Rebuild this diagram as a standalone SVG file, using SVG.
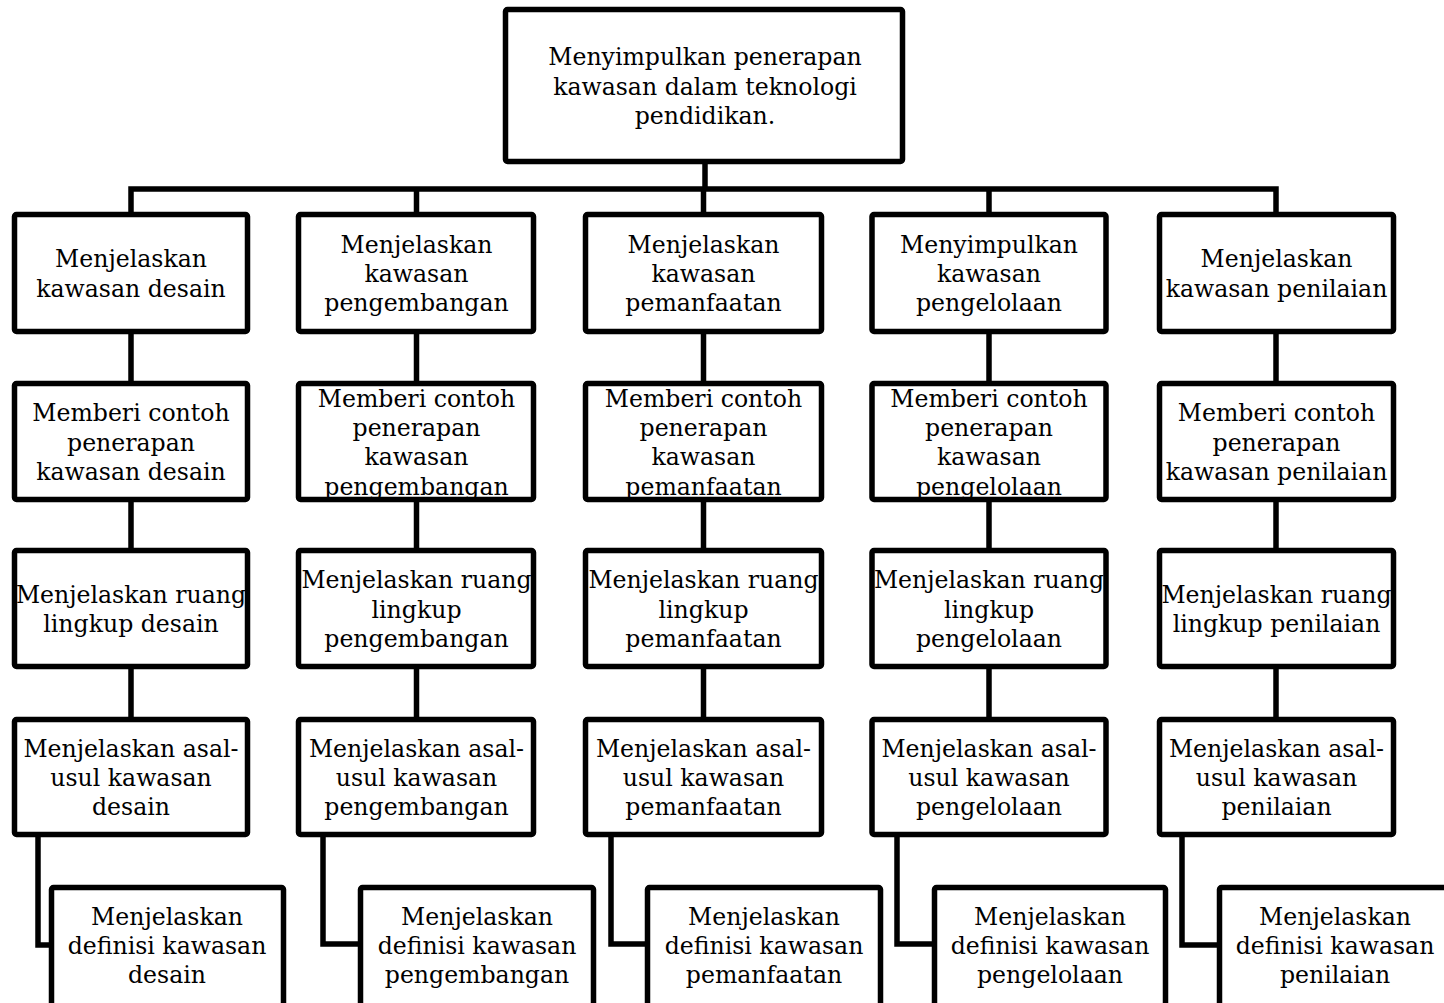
<svg xmlns="http://www.w3.org/2000/svg" width="1444" height="1003" viewBox="0 0 1444 1003">
<style>
.box{fill:#fff;stroke:#000;stroke-width:5.5;}
.ln{fill:none;stroke:#000;stroke-width:5.5;stroke-linejoin:miter;}
.t{font-family:"DejaVu Serif","Liberation Serif",serif;font-size:23.6px;text-anchor:middle;fill:#000;}
</style>
<rect width="1444" height="1003" fill="#fff"/>
<g id="connectors">
<path class="ln" d="M705,161 V189"/>
<path class="ln" d="M131,214 V189 H1276 V214"/>
<path class="ln" d="M416.5,189 V214 M703.5,189 V214 M989,189 V214"/>
<path class="ln" d="M131,332 V383 M131,500 V551 M131,667 V720"/>
<path class="ln" d="M416.5,332 V383 M416.5,500 V551 M416.5,667 V720"/>
<path class="ln" d="M703.5,332 V383 M703.5,500 V551 M703.5,667 V720"/>
<path class="ln" d="M989,332 V383 M989,500 V551 M989,667 V720"/>
<path class="ln" d="M1276,332 V383 M1276,500 V551 M1276,667 V720"/>
<path class="ln" d="M38,834 V945 H50"/>
<path class="ln" d="M323,834 V944 H360"/>
<path class="ln" d="M611,834 V944 H647"/>
<path class="ln" d="M897,834 V944 H934"/>
<path class="ln" d="M1182,834 V945 H1219"/>
</g>
<g id="n0"><rect class="box" x="505.5" y="9.5" width="397" height="152" rx="2"/>
<text class="t"><tspan x="705" y="65.2">Menyimpulkan penerapan</tspan><tspan x="705" y="94.5">kawasan dalam teknologi</tspan><tspan x="705" y="123.8">pendidikan.</tspan></text></g>

<g id="n1a"><rect class="box" x="14.5" y="214.5" width="233" height="117" rx="2"/>
<text class="t"><tspan x="131" y="267.4">Menjelaskan</tspan><tspan x="131" y="296.7">kawasan desain</tspan></text></g>
<g id="n2a"><rect class="box" x="298.5" y="214.5" width="235" height="117" rx="2"/>
<text class="t"><tspan x="416.5" y="252.7">Menjelaskan</tspan><tspan x="416.5" y="282">kawasan</tspan><tspan x="416.5" y="311.3">pengembangan</tspan></text></g>
<g id="n3a"><rect class="box" x="585.5" y="214.5" width="236" height="117" rx="2"/>
<text class="t"><tspan x="703.5" y="252.7">Menjelaskan</tspan><tspan x="703.5" y="282">kawasan</tspan><tspan x="703.5" y="311.3">pemanfaatan</tspan></text></g>
<g id="n4a"><rect class="box" x="872" y="214.5" width="234" height="117" rx="2"/>
<text class="t"><tspan x="989" y="252.7">Menyimpulkan</tspan><tspan x="989" y="282">kawasan</tspan><tspan x="989" y="311.3">pengelolaan</tspan></text></g>
<g id="n5a"><rect class="box" x="1159.5" y="214.5" width="234" height="117" rx="2"/>
<text class="t"><tspan x="1276.5" y="267.4">Menjelaskan</tspan><tspan x="1276.5" y="296.7">kawasan penilaian</tspan></text></g>

<g id="n1b"><rect class="box" x="14.5" y="383.5" width="233" height="116" rx="2"/>
<text class="t"><tspan x="131" y="421.2">Memberi contoh</tspan><tspan x="131" y="450.5">penerapan</tspan><tspan x="131" y="479.8">kawasan desain</tspan></text></g>
<g id="n2b"><rect class="box" x="298.5" y="383.5" width="235" height="116" rx="2"/>
<text class="t"><tspan x="416.5" y="406.6">Memberi contoh</tspan><tspan x="416.5" y="435.9">penerapan</tspan><tspan x="416.5" y="465.2">kawasan</tspan><tspan x="416.5" y="494.5">pengembangan</tspan></text></g>
<g id="n3b"><rect class="box" x="585.5" y="383.5" width="236" height="116" rx="2"/>
<text class="t"><tspan x="703.5" y="406.6">Memberi contoh</tspan><tspan x="703.5" y="435.9">penerapan</tspan><tspan x="703.5" y="465.2">kawasan</tspan><tspan x="703.5" y="494.5">pemanfaatan</tspan></text></g>
<g id="n4b"><rect class="box" x="872" y="383.5" width="234" height="116" rx="2"/>
<text class="t"><tspan x="989" y="406.6">Memberi contoh</tspan><tspan x="989" y="435.9">penerapan</tspan><tspan x="989" y="465.2">kawasan</tspan><tspan x="989" y="494.5">pengelolaan</tspan></text></g>
<g id="n5b"><rect class="box" x="1159.5" y="383.5" width="234" height="116" rx="2"/>
<text class="t"><tspan x="1276.5" y="421.2">Memberi contoh</tspan><tspan x="1276.5" y="450.5">penerapan</tspan><tspan x="1276.5" y="479.8">kawasan penilaian</tspan></text></g>

<g id="n1c"><rect class="box" x="14.5" y="550.5" width="233" height="116" rx="2"/>
<text class="t"><tspan x="131" y="602.9">Menjelaskan ruang</tspan><tspan x="131" y="632.2">lingkup desain</tspan></text></g>
<g id="n2c"><rect class="box" x="298.5" y="550.5" width="235" height="116" rx="2"/>
<text class="t"><tspan x="416.5" y="588.2">Menjelaskan ruang</tspan><tspan x="416.5" y="617.5">lingkup</tspan><tspan x="416.5" y="646.8">pengembangan</tspan></text></g>
<g id="n3c"><rect class="box" x="585.5" y="550.5" width="236" height="116" rx="2"/>
<text class="t"><tspan x="703.5" y="588.2">Menjelaskan ruang</tspan><tspan x="703.5" y="617.5">lingkup</tspan><tspan x="703.5" y="646.8">pemanfaatan</tspan></text></g>
<g id="n4c"><rect class="box" x="872" y="550.5" width="234" height="116" rx="2"/>
<text class="t"><tspan x="989" y="588.2">Menjelaskan ruang</tspan><tspan x="989" y="617.5">lingkup</tspan><tspan x="989" y="646.8">pengelolaan</tspan></text></g>
<g id="n5c"><rect class="box" x="1159.5" y="550.5" width="234" height="116" rx="2"/>
<text class="t"><tspan x="1276.5" y="602.9">Menjelaskan ruang</tspan><tspan x="1276.5" y="632.2">lingkup penilaian</tspan></text></g>

<g id="n1d"><rect class="box" x="14.5" y="719.5" width="233" height="115" rx="2"/>
<text class="t"><tspan x="131" y="756.7">Menjelaskan asal-</tspan><tspan x="131" y="786">usul kawasan</tspan><tspan x="131" y="815.3">desain</tspan></text></g>
<g id="n2d"><rect class="box" x="298.5" y="719.5" width="235" height="115" rx="2"/>
<text class="t"><tspan x="416.5" y="756.7">Menjelaskan asal-</tspan><tspan x="416.5" y="786">usul kawasan</tspan><tspan x="416.5" y="815.3">pengembangan</tspan></text></g>
<g id="n3d"><rect class="box" x="585.5" y="719.5" width="236" height="115" rx="2"/>
<text class="t"><tspan x="703.5" y="756.7">Menjelaskan asal-</tspan><tspan x="703.5" y="786">usul kawasan</tspan><tspan x="703.5" y="815.3">pemanfaatan</tspan></text></g>
<g id="n4d"><rect class="box" x="872" y="719.5" width="234" height="115" rx="2"/>
<text class="t"><tspan x="989" y="756.7">Menjelaskan asal-</tspan><tspan x="989" y="786">usul kawasan</tspan><tspan x="989" y="815.3">pengelolaan</tspan></text></g>
<g id="n5d"><rect class="box" x="1159.5" y="719.5" width="234" height="115" rx="2"/>
<text class="t"><tspan x="1276.5" y="756.7">Menjelaskan asal-</tspan><tspan x="1276.5" y="786">usul kawasan</tspan><tspan x="1276.5" y="815.3">penilaian</tspan></text></g>

<g id="n1e"><rect class="box" x="51.5" y="887.5" width="232" height="130" rx="2"/>
<text class="t"><tspan x="167" y="924.7">Menjelaskan</tspan><tspan x="167" y="954">definisi kawasan</tspan><tspan x="167" y="983.3">desain</tspan></text></g>
<g id="n2e"><rect class="box" x="360.5" y="887.5" width="233" height="130" rx="2"/>
<text class="t"><tspan x="477" y="924.7">Menjelaskan</tspan><tspan x="477" y="954">definisi kawasan</tspan><tspan x="477" y="983.3">pengembangan</tspan></text></g>
<g id="n3e"><rect class="box" x="647.5" y="887.5" width="233" height="130" rx="2"/>
<text class="t"><tspan x="764" y="924.7">Menjelaskan</tspan><tspan x="764" y="954">definisi kawasan</tspan><tspan x="764" y="983.3">pemanfaatan</tspan></text></g>
<g id="n4e"><rect class="box" x="934.5" y="887.5" width="231" height="130" rx="2"/>
<text class="t"><tspan x="1050" y="924.7">Menjelaskan</tspan><tspan x="1050" y="954">definisi kawasan</tspan><tspan x="1050" y="983.3">pengelolaan</tspan></text></g>
<g id="n5e"><rect class="box" x="1219.5" y="887.5" width="234" height="130" rx="2"/>
<text class="t"><tspan x="1335" y="924.7">Menjelaskan</tspan><tspan x="1335" y="954">definisi kawasan</tspan><tspan x="1335" y="983.3">penilaian</tspan></text></g>
</svg>
